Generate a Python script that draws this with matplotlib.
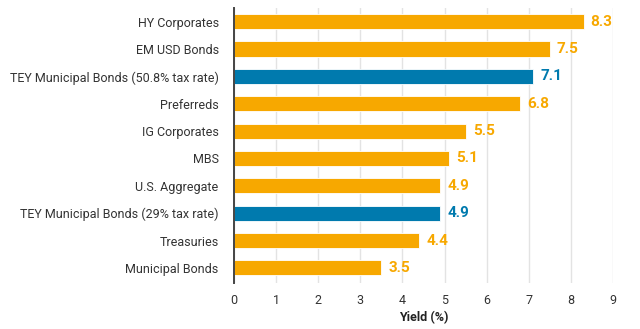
import numpy as np
import matplotlib.pyplot as plt

plt.rcParams['font.family'] = ['Roboto', 'DejaVu Sans']

# dados (de cima para baixo)
categorias = ['HY Corporates', 'EM USD Bonds', 'TEY Municipal Bonds (50.8% tax rate)',
              'Preferreds', 'IG Corporates', 'MBS', 'U.S. Aggregate',
              'TEY Municipal Bonds (29% tax rate)', 'Treasuries', 'Municipal Bonds']
rendimentos = [8.3, 7.5, 7.1, 6.8, 5.5, 5.1, 4.9, 4.9, 4.4, 3.5]
destaque = [False, False, True, False, False, False, False, True, False, False]

laranja = '#F7A800'
azul = '#007AAE'

fig = plt.figure(figsize=(6.4, 3.29), dpi=100)
ax = fig.add_axes([0.3656, 0.1398, 0.5922, 0.836])

n = len(categorias)
pos = np.arange(n)[::-1]
cores = [azul if d else laranja for d in destaque]

ax.barh(pos, rendimentos, height=0.55, color=cores, edgecolor='white', linewidth=0.6, zorder=3)

# rótulos de valor
for p, v, c in zip(pos, rendimentos, cores):
    ax.text(v + 0.17, p, f'{v:.1f}', va='center', ha='left', color=c,
            fontsize=11, fontweight='bold')

ax.set_xlim(0, 9)
ax.set_ylim(-0.55, n - 0.5)
ax.set_xticks(range(0, 10))
ax.set_yticks(pos)
ax.set_yticklabels(categorias)
ax.tick_params(axis='both', length=0, labelsize=9, colors='#333333')
ax.tick_params(axis='x', pad=8)
ax.tick_params(axis='y', pad=11)
ax.grid(axis='x', color='#E3E3E3', linewidth=1, zorder=0)
for s in ['top', 'right', 'bottom']:
    ax.spines[s].set_visible(False)
ax.spines['left'].set_color('#444444')
ax.spines['left'].set_linewidth(1.4)
ax.spines['left'].set_zorder(4)
ax.set_xlabel('Yield (%)', fontsize=9, fontweight='bold', color='#222222', labelpad=3)

fig.savefig('out.png', dpi=100)
